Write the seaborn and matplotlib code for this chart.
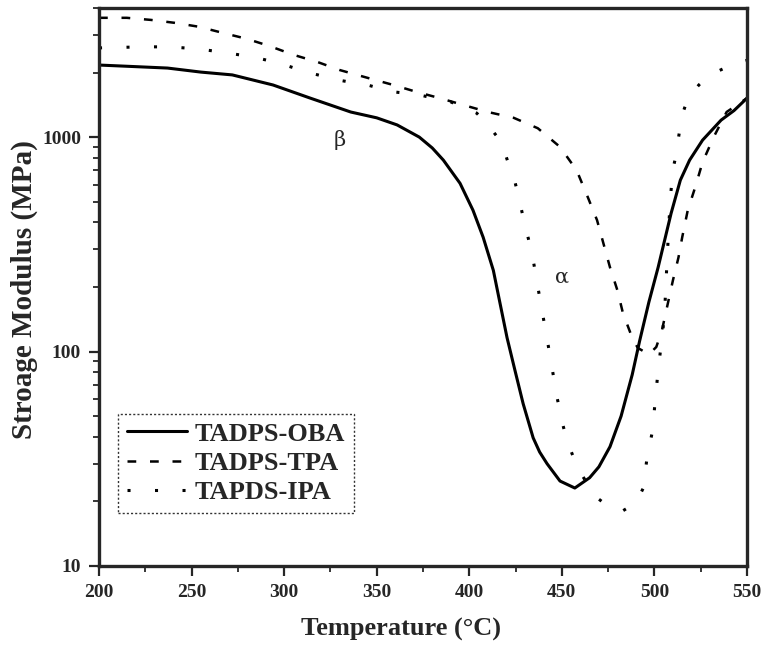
import numpy as np
import pandas as pd
import matplotlib
matplotlib.use("Agg")
import matplotlib.pyplot as plt
from matplotlib.ticker import MultipleLocator, LogLocator, FixedLocator, FixedFormatter, NullFormatter
import seaborn as sns

# ---------------- data ----------------
oba_T = [200, 215, 237, 255, 272, 294, 314, 336, 350, 361, 373, 380, 386, 395, 402, 407.5, 413,
         416.6, 420.4, 424.7, 429.1, 434.5, 438, 442, 449, 457, 465, 470, 476, 482, 488, 492, 497,
         502, 509, 514, 519, 526, 536, 543, 550]
oba_E = [2168, 2140, 2099, 2010, 1950, 1750, 1521, 1309, 1230, 1140, 1000, 890, 781, 609, 456, 341,
         239, 168, 116, 81.5, 57.1, 39.6, 34, 30, 24.9, 23.1, 25.8, 29, 36, 50, 78, 112, 170, 247,
         441, 630, 781, 968, 1200, 1330, 1520]

tpa_T = [200, 215, 228, 241, 254, 267, 280, 292, 305, 318, 330, 345, 359, 372, 384, 397, 410, 424,
         437, 449, 458, 464, 469, 476, 480, 483, 488, 491, 497, 501, 504, 507, 510, 513, 515, 518,
         522, 526, 532, 539, 545, 550]
tpa_E = [3600, 3600, 3520, 3410, 3270, 3060, 2870, 2660, 2420, 2240, 2055, 1890, 1750, 1620, 1520,
         1410, 1310, 1230, 1100, 900, 700, 525, 410, 247, 193, 151, 116, 104, 97, 105, 125, 164,
         215, 275, 341, 456, 583, 764, 1000, 1310, 1420, 1520]

ipa_T = [200, 224, 238, 254, 269, 283, 297, 312, 329, 345, 353, 360, 372, 390, 404, 410.2, 415.6,
         419.3, 422, 424.7, 426.4, 430.1, 433.9, 436.6, 439.3, 442, 444.7, 447.4, 449, 450.7, 452.8,
         455.5, 458.8, 464, 469, 476, 483, 490, 494, 496, 499, 500.4, 502, 504.7, 505.8, 506.9,
         508.5, 510.1, 511.7, 512.8, 513.9, 515.5, 518.2, 524, 530, 538, 545, 550]
ipa_E = [2606, 2636, 2636, 2577, 2470, 2366, 2218, 2013, 1846, 1750, 1676, 1622, 1580, 1459, 1294,
         1138, 990, 841, 716, 617, 536, 388, 287, 210, 155, 115, 84, 61, 53, 45, 38.4, 33.4, 28.4,
         24, 20.8, 18.7, 18.1, 19.7, 23.1, 32, 42.8, 59, 81.5, 129, 173, 275, 508, 716, 824, 968,
         1113, 1309, 1521, 1750, 1950, 2100, 2218, 2280]

labels = ["TADPS-OBA", "TADPS-TPA", "TAPDS-IPA"]
x_ticks = [200, 250, 300, 350, 400, 450, 500, 550]
y_ticks = [10, 100, 1000]
y_ticklabels = ["10", "100", "1000"]

# ---------------- style ----------------
sns.set_style("ticks")
plt.rcParams["font.family"] = ["Liberation Serif", "DejaVu Serif"]
plt.rcParams["font.weight"] = "bold"

fig = plt.figure(figsize=(7.64, 6.47), dpi=100)
ax = fig.add_axes([99 / 764, 1 - 566 / 647, 648 / 764, 558 / 647])

series = [
    (oba_T, oba_E, labels[0], "-", 2.2),
    (tpa_T, tpa_E, labels[1], (0, (3.5, 5.5)), 1.8),
    (ipa_T, ipa_E, labels[2], (0, (1.0, 8.0)), 2.2),
]
for T, E, lab, ls, lw in series:
    df = pd.DataFrame({"T": T, "E": E})
    sns.lineplot(data=df, x="T", y="E", ax=ax, color="black", linestyle=ls,
                 linewidth=lw, label=lab, sort=False, estimator=None)

ax.set_yscale("log")
ax.set_xlim(200, 550)
ax.set_ylim(10, 4000)

ax.xaxis.set_major_locator(FixedLocator(x_ticks))
ax.xaxis.set_minor_locator(MultipleLocator(25))
ax.yaxis.set_major_locator(FixedLocator(y_ticks))
ax.yaxis.set_major_formatter(FixedFormatter(y_ticklabels))
ax.yaxis.set_minor_locator(LogLocator(base=10, subs=np.arange(2, 10)))
ax.yaxis.set_minor_formatter(NullFormatter())

ax.tick_params(axis="both", which="major", direction="out", length=7, width=1.6,
               labelsize=14, pad=6)
ax.tick_params(axis="both", which="minor", direction="out", length=4, width=1.3)
ax.tick_params(top=False, right=False)
for lab in ax.get_xticklabels() + ax.get_yticklabels():
    lab.set_fontweight("bold")

for sp in ax.spines.values():
    sp.set_linewidth(2.4)
    sp.set_visible(True)

ax.set_xlabel("Temperature (°C)", fontsize=19, fontweight="bold")
ax.set_ylabel("Stroage Modulus (MPa)", fontsize=21, fontweight="bold")
ax.xaxis.set_label_coords((401 - 99) / 648, -0.093)
ax.yaxis.set_label_coords(-0.094, (566 - 290) / 558)

ax.text(330, 968, "β", fontsize=15, fontweight="normal", ha="center", va="center",
        family=["DejaVu Serif"])
ax.text(450, 222, "α", fontsize=15, fontweight="normal", ha="center", va="center",
        family=["DejaVu Serif"])

leg = ax.legend(loc="lower left", bbox_to_anchor=(0.029, 0.095), borderaxespad=0,
                frameon=True, fancybox=False, fontsize=19, handlelength=2.3,
                handletextpad=0.27, labelspacing=0.22, borderpad=0.33)
leg.get_frame().set_edgecolor("black")
leg.get_frame().set_linewidth(1.0)
leg.get_frame().set_linestyle((0, (1.5, 1.5)))
for t in leg.get_texts():
    t.set_fontweight("bold")

fig.savefig("out.png", dpi=100)
